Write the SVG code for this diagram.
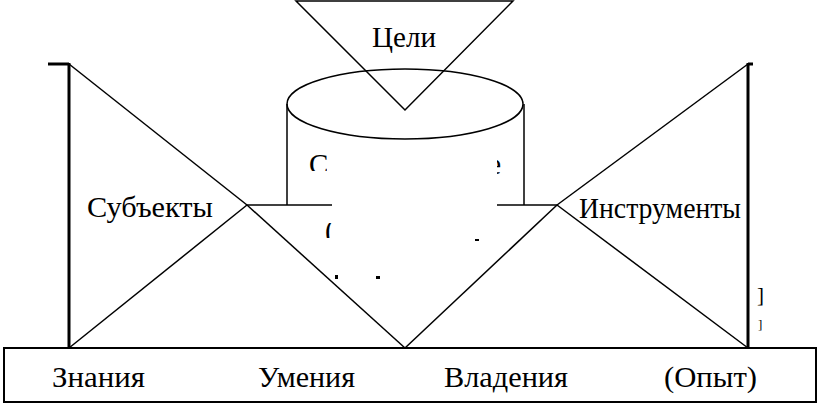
<svg xmlns="http://www.w3.org/2000/svg" width="820" height="406" viewBox="0 0 820 406">
<style>
.ln{fill:none;stroke:#000;stroke-width:1.5}
.thick{fill:none;stroke:#000;stroke-width:3}
.t{font-family:'Times New Roman','Liberation Serif','DejaVu Serif',serif;font-size:29px;fill:#000}
</style>
<defs>
<clipPath id="c1"><rect x="300" y="145" width="27" height="26"/><rect x="497" y="150" width="10" height="24"/></clipPath>
<clipPath id="c2"><rect x="320" y="223" width="13" height="15"/></clipPath>
</defs>
<rect width="820" height="406" fill="#fff"/>
<g id="connectors">
<line class="ln" x1="69" y1="64" x2="247" y2="205"/>
<line class="ln" x1="69" y1="348" x2="247" y2="205"/>
<line class="ln" x1="247" y1="205" x2="405" y2="348"/>
<line class="ln" x1="405" y1="348" x2="557" y2="205"/>
<line class="ln" x1="557" y1="205" x2="748" y2="64"/>
<line class="ln" x1="557" y1="205" x2="748" y2="348"/>
<line class="ln" x1="247" y1="205" x2="332" y2="205" stroke-width="2"/>
<line class="ln" x1="497" y1="205" x2="557" y2="205" stroke-width="2"/>
</g>
<g id="left-bar">
<line class="thick" x1="69" y1="63" x2="69" y2="348"/>
<line class="thick" x1="48" y1="64" x2="69" y2="64"/>
</g>
<g id="right-bar">
<line class="thick" x1="748" y1="63" x2="748" y2="348"/>
<line class="thick" x1="748" y1="64" x2="753" y2="64"/>
</g>
<g id="cylinder">
<line class="ln" x1="287" y1="104" x2="287" y2="205"/>
<line class="ln" x1="524" y1="104" x2="524" y2="205"/>
<ellipse class="ln" cx="405" cy="104" rx="118" ry="35" fill="#fff"/>
<text class="t" x="309" y="174" textLength="192" lengthAdjust="spacing" clip-path="url(#c1)">Содержание</text>
<text class="t" x="325" y="240" clip-path="url(#c2)">(</text>
<rect x="335" y="275" width="3" height="4"/>
<rect x="376" y="276" width="4" height="3"/>
<rect x="475" y="239" width="4" height="2"/>
</g>
<g id="goals">
<polygon class="ln" points="296,1 513,1 405,110" fill="#fff"/>
<text class="t" x="372" y="47" textLength="64" lengthAdjust="spacingAndGlyphs">Цели</text>
</g>
<g id="subjects">
<text class="t" x="87" y="217" textLength="126" lengthAdjust="spacingAndGlyphs">Субъекты</text>
</g>
<g id="instruments">
<text class="t" x="579" y="218" textLength="162" lengthAdjust="spacingAndGlyphs">Инструменты</text>
</g>
<g id="marks">
<text class="t" x="757" y="302" style="font-size:21px">]</text>
<text class="t" x="758" y="329" style="font-size:13px">]</text>
</g>
<g id="base">
<rect x="4" y="348" width="812" height="54" fill="none" stroke="#000" stroke-width="2"/>
<text class="t" x="52" y="387" textLength="93" lengthAdjust="spacingAndGlyphs">Знания</text>
<text class="t" x="258" y="387" textLength="97" lengthAdjust="spacingAndGlyphs">Умения</text>
<text class="t" x="444" y="387" textLength="124" lengthAdjust="spacingAndGlyphs">Владения</text>
<text class="t" x="664" y="387" textLength="93" lengthAdjust="spacingAndGlyphs">(Опыт)</text>
</g>
</svg>
